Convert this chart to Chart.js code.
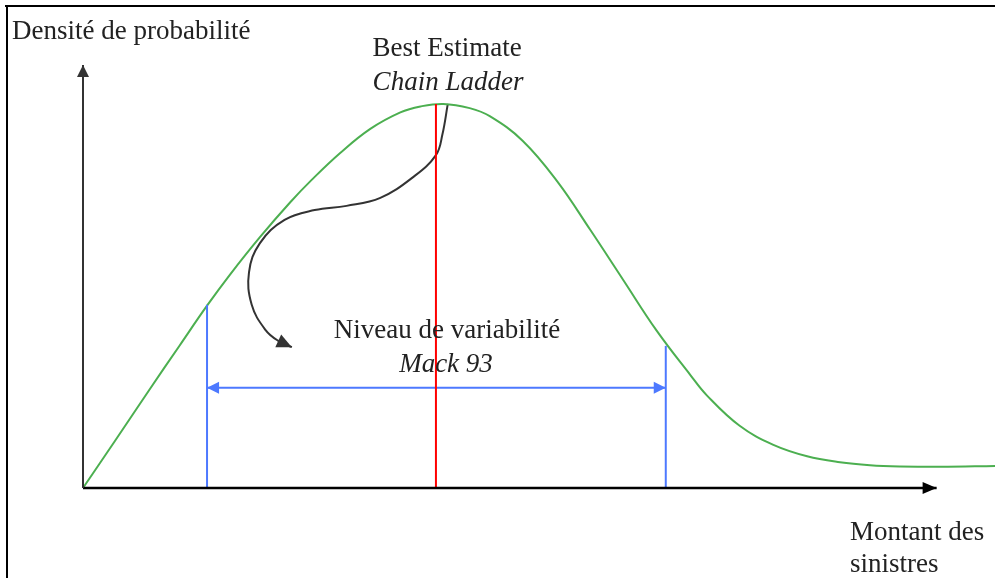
<!DOCTYPE html>
<html>
<head>
<meta charset="utf-8">
<script src="https://cdn.jsdelivr.net/npm/chart.js@4/dist/chart.umd.min.js"></script>
<style>
  body { margin: 0; background: #fff; }
  canvas { display: block; }
</style>
</head>
<body>
<canvas id="densityChart" width="995" height="578"></canvas>
<script>
// x: montant des sinistres (0-100), y: densité (0-1)
const densityX = [0, 3.5, 7.3, 10.6, 13.6, 16.1, 19.4, 22.7, 25.1, 28.2, 31.5, 34.8, 37.0, 39.5, 42.4, 44.6, 48.2, 52.0, 55.6, 59.2, 62.9, 66.6, 68.4, 72.0, 75.7, 79.4, 83.0, 86.3, 89.6, 94.0, 100];
const densityY = [0, 0.111, 0.233, 0.337, 0.431, 0.504, 0.593, 0.675, 0.729, 0.792, 0.849, 0.888, 0.902, 0.908, 0.898, 0.879, 0.821, 0.725, 0.611, 0.493, 0.372, 0.267, 0.219, 0.147, 0.102, 0.075, 0.061, 0.054, 0.051, 0.050, 0.052];

const bestEstimate = 38.7;
const bestEstimateTop = 0.908;
const mackLow = 13.6;
const mackLowTop = 0.433;
const mackHigh = 63.9;
const mackHighTop = 0.336;
const mackBand = 0.237;

// courbe de la flèche noire
const pointerX = [40.0, 39.4, 38.7, 36.2, 32.6, 28.9, 25.4, 22.1, 19.4, 18.2, 18.5, 20.0, 21.4, 22.9];
const pointerY = [0.908, 0.835, 0.787, 0.735, 0.686, 0.667, 0.657, 0.634, 0.579, 0.510, 0.433, 0.374, 0.348, 0.333];

const xAxisEnd = 93.6;

const labels = {
  yTitle: 'Densité de probabilité',
  best: 'Best Estimate',
  chain: 'Chain Ladder',
  niveau: 'Niveau de variabilité',
  mack: 'Mack 93',
  x1: 'Montant des',
  x2: 'sinistres'
};

const pts = (xs, ys) => xs.map((x, i) => ({ x: x, y: ys[i] }));

const arrowHeads = {
  id: 'arrowHeads',
  afterDatasetsDraw(chart) {
    const c = chart.ctx;
    chart.data.datasets.forEach((ds, i) => {
      const meta = chart.getDatasetMeta(i);
      const p = meta.data;
      if (!p.length) return;
      const size = ds.headSize || [12, 6];
      const head = (tip, from) => {
        const a = Math.atan2(tip.y - from.y, tip.x - from.x);
        c.save();
        c.fillStyle = ds.borderColor;
        c.translate(tip.x, tip.y);
        c.rotate(a);
        c.beginPath();
        c.moveTo(0, 0);
        c.lineTo(-size[0], -size[1]);
        c.lineTo(-size[0], size[1]);
        c.closePath();
        c.fill();
        c.restore();
      };
      if (ds.arrowEnd) {
        const last = p[p.length - 1];
        const prev = ds.tension ? { x: last.cp1x, y: last.cp1y } : p[p.length - 2];
        head(last, prev);
      }
      if (ds.arrowStart) {
        head(p[0], p[1]);
      }
    });
  }
};

const frameAndText = {
  id: 'frameAndText',
  beforeDraw(chart) {
    const c = chart.ctx;
    c.save();
    c.fillStyle = '#fff';
    c.fillRect(0, 0, chart.width, chart.height);
    c.fillStyle = '#000';
    c.fillRect(5, 5, chart.width - 5, 2);
    c.fillRect(6, 5, 2, chart.height - 5);
    c.restore();
  },
  afterDraw(chart) {
    const c = chart.ctx;
    c.save();
    c.fillStyle = '#222';
    c.textBaseline = 'alphabetic';
    c.font = '27px "Liberation Serif"';
    c.textAlign = 'left';
    c.fillText(labels.yTitle, 12, 39);
    c.fillText(labels.x1, 850, 540);
    c.fillText(labels.x2, 850, 572);
    c.textAlign = 'center';
    c.fillText(labels.best, 447, 56);
    c.fillText(labels.niveau, 447, 338);
    c.font = 'italic 27px "Liberation Serif"';
    c.fillText(labels.chain, 448, 90);
    c.fillText(labels.mack, 446, 372);
    c.restore();
  }
};

const line = (data, color, width, extra) => Object.assign({
  data: data,
  borderColor: color,
  borderWidth: width,
  pointRadius: 0,
  fill: false,
  tension: 0,
  clip: false
}, extra || {});

new Chart(document.getElementById('densityChart'), {
  type: 'line',
  data: {
    datasets: [
      line([{ x: 0, y: 0 }, { x: 0, y: 1 }], '#333', 2, { arrowEnd: true, headSize: [12, 6] }),
      line([{ x: 0, y: 0 }, { x: xAxisEnd, y: 0 }], '#000', 2.5, { arrowEnd: true, headSize: [14, 6] }),
      line([{ x: bestEstimate, y: 0 }, { x: bestEstimate, y: bestEstimateTop }], '#ff0000', 2),
      line([{ x: mackLow, y: 0 }, { x: mackLow, y: mackLowTop }], '#4d79ff', 2),
      line([{ x: mackHigh, y: 0 }, { x: mackHigh, y: mackHighTop }], '#4d79ff', 2),
      line([{ x: mackLow, y: mackBand }, { x: mackHigh, y: mackBand }], '#4d79ff', 2, { arrowStart: true, arrowEnd: true, headSize: [12, 6] }),
      line(pts(densityX, densityY), '#4caf50', 2, { tension: 0.4 }),
      line(pts(pointerX, pointerY), '#333', 2, { tension: 0.4, arrowEnd: true, headSize: [15, 7] })
    ]
  },
  options: {
    responsive: false,
    animation: false,
    layout: { padding: { left: 83, right: 0, top: 65, bottom: 90 } },
    plugins: { legend: { display: false }, tooltip: { enabled: false } },
    scales: {
      x: { type: 'linear', min: 0, max: 100, display: false },
      y: { type: 'linear', min: 0, max: 1, display: false }
    }
  },
  plugins: [frameAndText, arrowHeads]
});
</script>
</body>
</html>
